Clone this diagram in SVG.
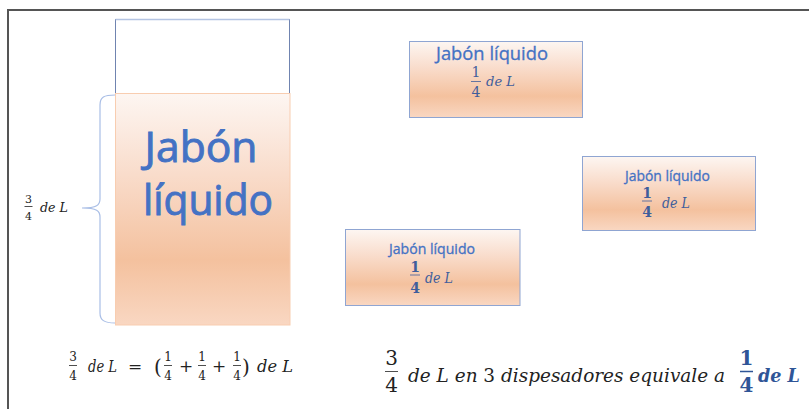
<svg xmlns="http://www.w3.org/2000/svg" width="809" height="409" viewBox="0 0 809 409">
<defs>
<linearGradient id="peach" x1="0" y1="0" x2="0" y2="1">
<stop offset="0" stop-color="#fdf6f2"/>
<stop offset="0.35" stop-color="#f9dccb"/>
<stop offset="0.72" stop-color="#f4c19e"/>
<stop offset="1" stop-color="#f9d7c2"/>
</linearGradient>
<style>
.frame{fill:none;stroke:#555;stroke-width:2}
.box{fill:url(#peach);stroke:#8fa5d2;stroke-width:1}
.lbl{font-family:"Open Sans","Noto Sans",sans-serif;fill:#4472c4;text-anchor:middle}
.big{stroke:#4472c4;stroke-width:0.9}
.sm{stroke:#4472c4;stroke-width:0.3}
.m{font-family:"DejaVu Serif","Liberation Serif",serif;font-style:italic;fill:#222}
.d{font-family:"DejaVu Serif","Liberation Serif",serif;fill:#222;text-anchor:middle}
.bm{fill:#3f5e9c}
.bar{stroke:#222;stroke-width:0.8}
.bbar{stroke:#3f5e9c;stroke-width:0.8}
.blue{fill:#2f5597;font-weight:bold}
</style>
</defs>
<rect width="809" height="409" fill="#fff"/>
<path class="frame" d="M8,409 L8,10 L809,10"/>

<g id="container">
<rect x="115.5" y="19.5" width="174" height="74" fill="#fff" stroke="#7084b0" stroke-width="1"/>
<line x1="115.5" y1="19.5" x2="289.5" y2="19.5" stroke="#b4c4e2" stroke-width="1.5"/>
<rect x="115.5" y="93.5" width="174.5" height="231.5" fill="url(#peach)" stroke="#f8cdb0" stroke-width="1"/>
<text class="lbl big" x="201" y="162" font-size="42" textLength="113" lengthAdjust="spacingAndGlyphs">Jabón</text>
<text class="lbl big" x="208" y="215" font-size="42" textLength="130" lengthAdjust="spacingAndGlyphs">líquido</text>
</g>

<g id="brace">
<path d="M115,95 C104,95 100,97 100,105 L100,199 C100,205 97,208 82,208 C97,208 100,211 100,217 L100,313 C100,320 104,323 115,323" fill="none" stroke="#a9bee6" stroke-width="1.2"/>
<text class="d" x="28.5" y="203" font-size="11">3</text>
<line class="bar" x1="24.5" y1="206.5" x2="32.5" y2="206.5"/>
<text class="d" x="28.5" y="220" font-size="11">4</text>
<text class="m" x="40" y="212" font-size="12" textLength="28" lengthAdjust="spacingAndGlyphs">de L</text>
</g>

<g id="box1">
<rect class="box" x="409.5" y="41.5" width="173" height="76"/>
<text class="lbl sm" x="492" y="60" font-size="17.5" textLength="112" lengthAdjust="spacingAndGlyphs">Jabón líquido</text>
<text class="d bm" x="476" y="77" font-size="14">1</text>
<line class="bbar" x1="471" y1="81.5" x2="481" y2="81.5"/>
<text class="d bm" x="476" y="96.5" font-size="14">4</text>
<text class="m bm" x="486" y="86" font-size="13" textLength="29" lengthAdjust="spacingAndGlyphs">de L</text>
</g>

<g id="box2">
<rect class="box" x="582.5" y="156.5" width="173" height="74"/>
<text class="lbl sm" x="667.5" y="181" font-size="14" textLength="85" lengthAdjust="spacingAndGlyphs">Jabón líquido</text>
<text class="d bm" x="647" y="198" font-size="14" font-weight="bold">1</text>
<line class="bbar" x1="642" y1="201" x2="652" y2="201"/>
<text class="d bm" x="647" y="216.5" font-size="14" font-weight="bold">4</text>
<text class="m bm" x="662" y="208" font-size="14" textLength="28" lengthAdjust="spacingAndGlyphs">de L</text>
</g>

<g id="box3">
<rect class="box" x="345.5" y="229.5" width="174.5" height="76"/>
<text class="lbl sm" x="432" y="254" font-size="14" textLength="86" lengthAdjust="spacingAndGlyphs">Jabón líquido</text>
<text class="d bm" x="415" y="272" font-size="14" font-weight="bold">1</text>
<line class="bbar" x1="410" y1="275" x2="420" y2="275"/>
<text class="d bm" x="415" y="292.5" font-size="14" font-weight="bold">4</text>
<text class="m bm" x="425" y="283" font-size="14" textLength="28" lengthAdjust="spacingAndGlyphs">de L</text>
</g>

<g id="formula-left">
<text class="d" x="73" y="361" font-size="12">3</text>
<line class="bar" x1="69" y1="365.5" x2="77" y2="365.5"/>
<text class="d" x="73" y="380" font-size="12">4</text>
<text class="m" x="88" y="372" font-size="17" textLength="29" lengthAdjust="spacingAndGlyphs">de L</text>
<text class="d" x="135" y="372" font-size="17">=</text>
<text class="d" x="158" y="374" font-size="20">(</text>
<text class="d" x="168" y="361" font-size="12">1</text>
<line class="bar" x1="164" y1="365.5" x2="172" y2="365.5"/>
<text class="d" x="168" y="380" font-size="12">4</text>
<text class="d" x="186" y="372" font-size="17">+</text>
<text class="d" x="202" y="361" font-size="12">1</text>
<line class="bar" x1="198" y1="365.5" x2="206" y2="365.5"/>
<text class="d" x="202" y="380" font-size="12">4</text>
<text class="d" x="219" y="372" font-size="17">+</text>
<text class="d" x="237" y="361" font-size="12">1</text>
<line class="bar" x1="233" y1="365.5" x2="241" y2="365.5"/>
<text class="d" x="237" y="380" font-size="12">4</text>
<text class="d" x="246" y="374" font-size="20">)</text>
<text class="m" x="257" y="372" font-size="17" textLength="36" lengthAdjust="spacingAndGlyphs">de L</text>
</g>

<g id="formula-right">
<text class="d" x="391.5" y="365" font-size="20">3</text>
<line class="bar" x1="385" y1="371.5" x2="398" y2="371.5" stroke-width="1"/>
<text class="d" x="391.5" y="391.5" font-size="20">4</text>
<text class="m" x="408" y="381.5" font-size="18" textLength="317" lengthAdjust="spacingAndGlyphs">de L en <tspan font-style="normal">3</tspan> dispesadores  equivale a</text>
<text class="d blue" x="746.5" y="365" font-size="20">1</text>
<line x1="740" y1="371.5" x2="753" y2="371.5" stroke="#2f5597" stroke-width="1.5"/>
<text class="d blue" x="746.5" y="391.5" font-size="20">4</text>
<text class="m blue" x="758" y="381.5" font-size="18" textLength="42" lengthAdjust="spacingAndGlyphs">de L</text>
</g>
</svg>
